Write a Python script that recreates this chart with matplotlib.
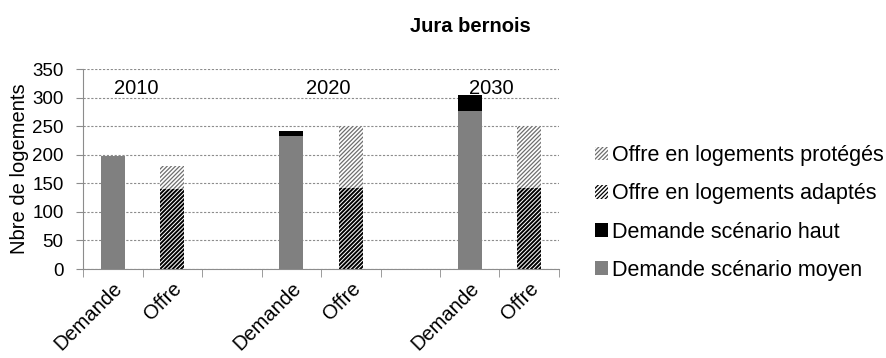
import matplotlib.pyplot as plt
import numpy as np

plt.rcParams['font.family'] = ['Liberation Sans', 'DejaVu Sans']

categories = ["Demande", "Offre", "", "Demande", "Offre", "", "Demande", "Offre"]
annees = ["2010", "2020", "2030"]
demande_moyen = [198, 232, 277]
demande_haut = [0, 9, 27]
offre_adaptes = [140, 142, 142]
offre_proteges = [40, 108, 108]

x = np.arange(len(categories))
x_dem = x[[0, 3, 6]]
x_off = x[[1, 4, 7]]
largeur = 0.4

fig = plt.figure(figsize=(8.87, 3.58), dpi=100)
ax = fig.add_axes([0.0936, 0.2486, 0.5366, 0.5584])

ax.set_axisbelow(True)
ax.grid(axis='y', linestyle=(0, (2, 1.5)), color='#8c8c8c', linewidth=0.8)

b_moy = ax.bar(x_dem, demande_moyen, largeur, color='#808080', linewidth=0,
               label='Demande scénario moyen')
b_haut = ax.bar(x_dem, demande_haut, largeur, bottom=demande_moyen, color='black',
                linewidth=0, label='Demande scénario haut')

# hachures : épaisses pour l'offre adaptée, fines et grises pour l'offre protégée
plt.rcParams['hatch.linewidth'] = 1.4
b_ad = ax.bar(x_off, offre_adaptes, largeur, color='white', edgecolor='black',
              hatch='////////', linewidth=0, label='Offre en logements adaptés')
plt.rcParams['hatch.linewidth'] = 0.9
b_pr = ax.bar(x_off, offre_proteges, largeur, bottom=offre_adaptes, color='white',
              edgecolor='#6e6e6e', hatch='////////', linewidth=0,
              label='Offre en logements protégés')

for xa, an in zip([0.4, 3.63, 6.37], annees):
    ax.text(xa, 316, an, ha='center', va='center', fontsize=14.5)

ax.set_xlim(-0.5, len(categories) - 0.5)
ax.set_ylim(0, 350)
ax.set_yticks(np.arange(0, 351, 50))
ax.tick_params(axis='y', labelsize=13.5, length=5, pad=9, color='#8c8c8c')
ax.set_xticks(x)
ax.set_xticklabels(categories, rotation=45, ha='right', rotation_mode='anchor',
                   fontsize=14.5)
ax.tick_params(axis='x', length=0, pad=7)
ax.set_xticks(np.arange(-0.5, len(categories)), minor=True)
ax.tick_params(axis='x', which='minor', length=6, color='#8c8c8c')
ax.set_ylabel('Nbre de logements', fontsize=14.5, labelpad=2)

for s in ['top', 'right']:
    ax.spines[s].set_visible(False)
for s in ['left', 'bottom']:
    ax.spines[s].set_color('#8c8c8c')

fig.text(0.53, 0.925, 'Jura bernois', ha='center', va='center',
         fontsize=14.5, fontweight='bold')

fig.legend([b_pr, b_ad, b_haut, b_moy],
           [b_pr.get_label(), b_ad.get_label(), b_haut.get_label(), b_moy.get_label()],
           loc='center left', bbox_to_anchor=(0.671, 0.405), frameon=False,
           fontsize=15.5, handlelength=0.6, handleheight=0.6, handletextpad=0.2,
           labelspacing=0.8, borderaxespad=0, borderpad=0)

fig.savefig('out.png', dpi=100)
